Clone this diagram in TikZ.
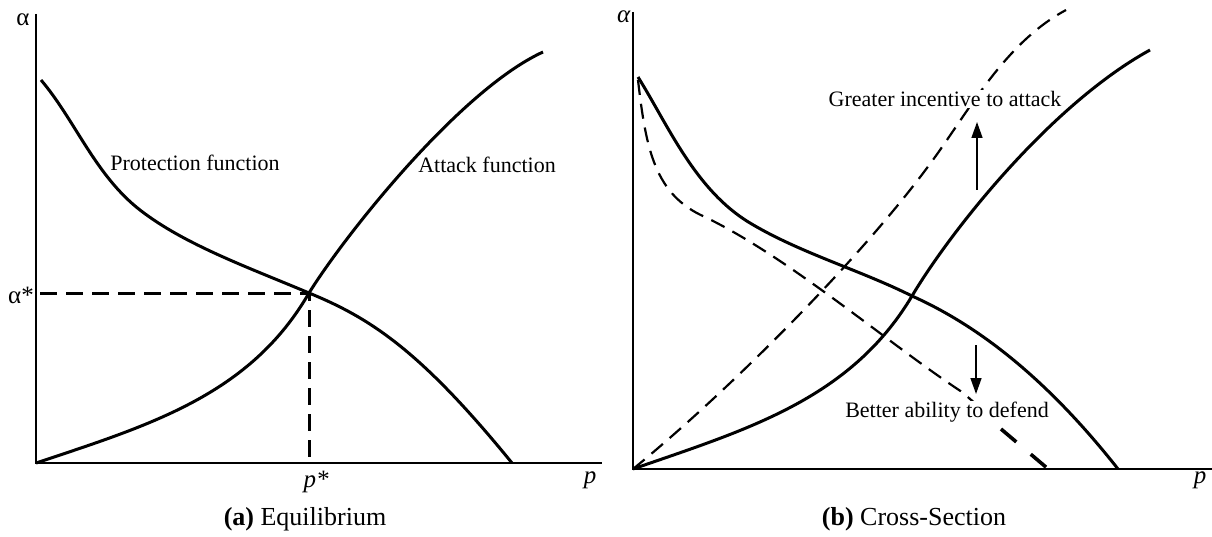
\documentclass[tikz,border=0pt]{standalone}
\usepackage{fontspec}
\setmainfont{Liberation Serif}
\usetikzlibrary{arrows.meta}
\begin{document}
\begin{tikzpicture}[x=1pt,y=-1pt,
  axis/.style={line width=1.5pt},
  curve/.style={line width=3pt, line join=round},
  dcurve/.style={line width=3pt, dash pattern=on 17pt off 9pt},
  tdcurve/.style={line width=2.2pt, dash pattern=on 15pt off 9pt},
  lbl/.style={inner sep=0pt, font=\fontsize{22}{26}\selectfont},
  axlbl/.style={inner sep=0pt, font=\fontsize{25}{29}\selectfont},
  captext/.style={inner sep=0pt, font=\fontsize{26}{30}\selectfont},
  shiftarrow/.style={line width=1.5pt, -{Triangle[length=16pt,width=11pt]}}]
\useasboundingbox (0,0) rectangle (1212,537);
% ---------- left panel ----------
\coordinate (O1) at (36,463);
\coordinate (Y1) at (36,14);
\coordinate (X1) at (602,463);
\coordinate (E) at (309,293);
\coordinate (EY) at (40,293);
\coordinate (EX) at (309,463);
\draw[axis] (Y1) -- (O1) -- (X1);
\draw[dcurve] (EY) -- (E) -- (EX);
% protection function
\draw[curve] (41,80) .. controls (75,120) and (95,175) .. (140,210)
  .. controls (185,245) and (250,268) .. (E)
  .. controls (370,318) and (420,350) .. (512,463);
% attack function
\draw[curve] (O1) .. controls (150,425) and (250,395) .. (E)
  .. controls (345,235) and (460,90) .. (543,52);
\node[axlbl] (a1) at (23,20) {α};
\node[axlbl] (as) at (21,295) {α*};
\node[axlbl] (ps) at (316,482) {\textit{p*}};
\node[axlbl] (p1) at (590,480) {\textit{p}};
\node[lbl] (pf) at (195,163) {Protection function};
\node[lbl] (af) at (487,165) {Attack function};
\node[captext] (ca) at (305,519) {\textbf{(a)} Equilibrium};
% ---------- right panel ----------
\coordinate (O2) at (633,469);
\coordinate (Y2) at (633,12);
\coordinate (X2) at (1212,469);
\coordinate (E2) at (912,296);
\draw[axis] (Y2) -- (O2) -- (X2);
% protection (solid)
\draw[curve] (638,77) .. controls (668,125) and (695,190) .. (750,223)
  .. controls (800,253) and (860,270) .. (E2)
  .. controls (970,322) and (1040,370) .. (1118,469);
% attack (solid)
\draw[curve] (O2) .. controls (745,430) and (850,400) .. (E2)
  .. controls (950,232) and (1050,105) .. (1150,50);
% protection (dashed, shifted down)
\draw[tdcurve] (638,80) .. controls (646,150) and (655,195) .. (705,217)
  .. controls (790,258) and (890,345) .. (962,392) -- (985,412);
\draw[line width=3.6pt, dash pattern=on 20pt off 19pt] (1001,429) -- (1047,468);
% attack (dashed, shifted up)
\draw[tdcurve] (O2) .. controls (730,390) and (870,250) .. (940,150)
  .. controls (975,100) and (1010,40) .. (1066,10);
\node[axlbl] (a2) at (624,17) {\textit{α}};
\node[axlbl] (p2) at (1200,480) {\textit{p}};
\node[lbl, fill=white, inner sep=1pt] (gi) at (945,99) {Greater incentive to attack};
\node[lbl, fill=white, inner sep=1pt] (ba) at (947,412) {Better ability to defend};
\coordinate (u0) at (977,190);
\coordinate (u1) at (977,122);
\coordinate (d0) at (976,345);
\coordinate (d1) at (976,394);
\draw[shiftarrow] (u0) -- (u1);
\draw[shiftarrow] (d0) -- (d1);
\node[captext] (cb) at (914,519) {\textbf{(b)} Cross-Section};
\end{tikzpicture}
\end{document}
